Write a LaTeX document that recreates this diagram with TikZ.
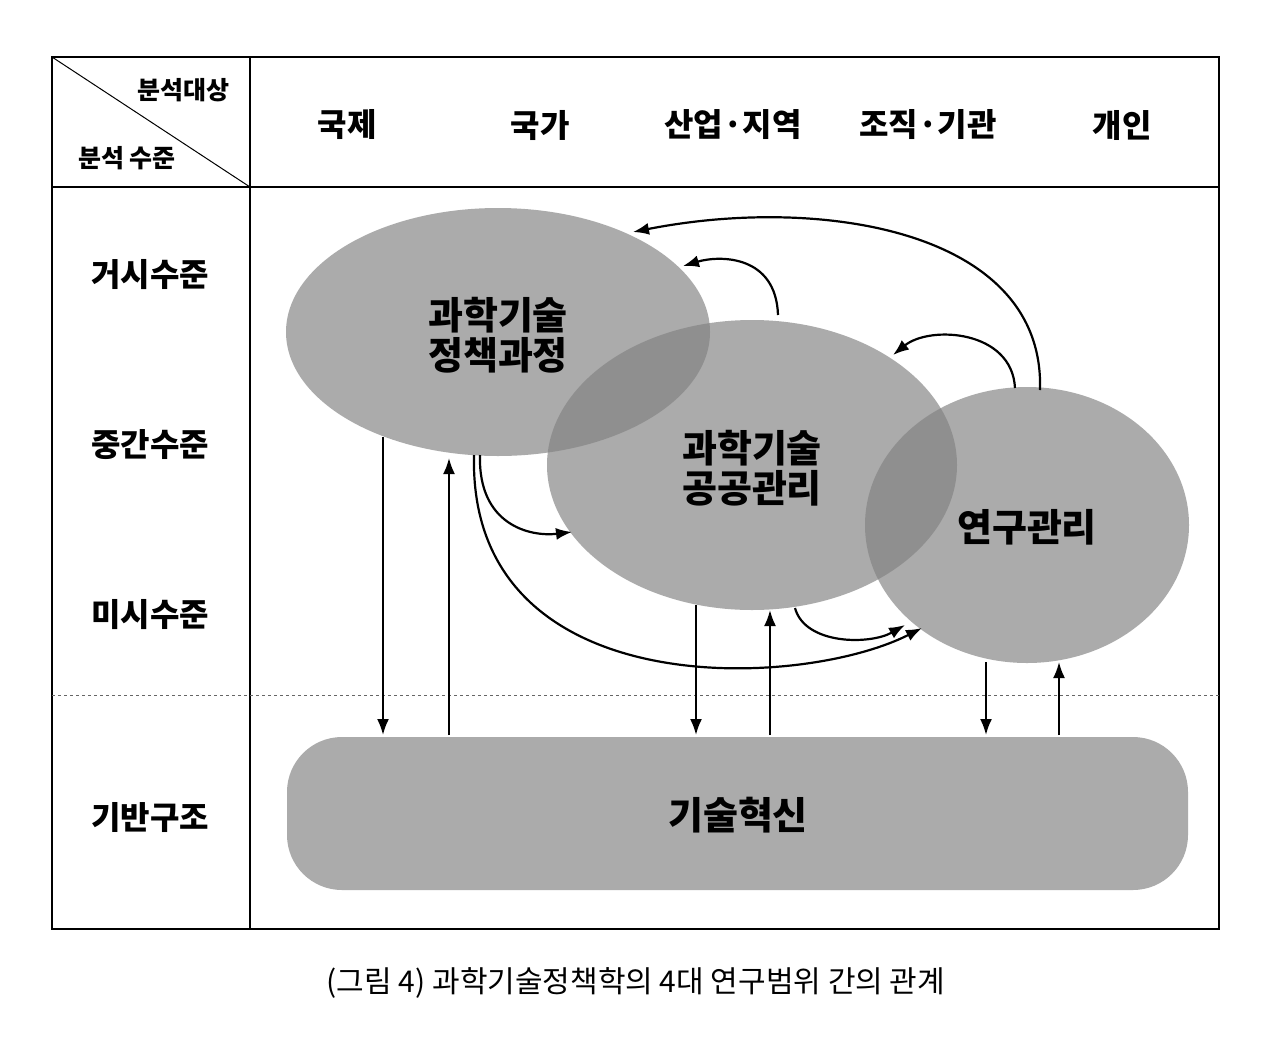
\documentclass[tikz,border=0pt]{standalone}
\usepackage{fontspec}
\setmainfont{Noto Sans CJK KR}
\newfontfamily\kb[BoldFont={Noto Sans CJK KR Bold}]{Noto Sans CJK KR}
\usetikzlibrary{arrows.meta}
\begin{document}
\begin{tikzpicture}[x=1pt,y=-1pt,
  blob/.style={fill=black!49,fill opacity=0.67,draw=none},
  conn/.style={line width=2.2pt,-{Latex[length=16pt,width=12pt]}},
  hd/.style={font=\fontsize{32}{38}\selectfont\bfseries},
  big/.style={font=\fontsize{38}{46}\selectfont\bfseries,align=center}]
\useasboundingbox (0,0) rectangle (1280,1037);
\fill[white] (0,0) rectangle (1280,1037);
% table
\draw[line width=1.5pt] (52,57) rectangle (1219,929);
\draw[line width=1.5pt] (250,57) -- (250,929);
\draw[line width=1.5pt] (52,187) -- (1219,187);
\draw[line width=1pt] (52,57) -- (250,187);
\draw[dashed,line width=1pt,black!60] (52,695) -- (1219,695);
\node[font=\fontsize{25}{30}\selectfont\bfseries] (ta) at (183,90) {분석대상};
\node[font=\fontsize{25}{30}\selectfont\bfseries] (tb) at (127,158) {분석 수준};
\node[hd] (c1) at (347,125) {국제};
\node[hd] (c2) at (540,125) {국가};
\node[hd] (c3) at (733,125) {산업·지역};
\node[hd] (c4) at (928,125) {조직·기관};
\node[hd] (c5) at (1122,125) {개인};
\node[hd] (r1) at (150,275) {거시수준};
\node[hd] (r2) at (150,445) {중간수준};
\node[hd] (r3) at (150,615) {미시수준};
\node[hd] (r4) at (150,818) {기반구조};
% shapes
\fill[black!33,rounded corners=55pt] (287,737) rectangle (1188,890);
\fill[blob] (498,332) ellipse [x radius=212, y radius=124];
\fill[blob] (752,465) ellipse [x radius=205, y radius=145];
\fill[blob] (1027,525) ellipse [x radius=162, y radius=138];
\node[big] (p) at (498,335) {과학기술\\[-6pt]정책과정};
\node[big] (g) at (752,468) {과학기술\\[-6pt]공공관리};
\node[big] (y) at (1027,527) {연구관리};
\node[big] (t) at (738,815) {기술혁신};
% coordinates
\coordinate (a1) at (383,437); \coordinate (b1) at (383,735);
\coordinate (a2) at (449,735); \coordinate (b2) at (449,458);
\coordinate (a3) at (696,605); \coordinate (b3) at (696,735);
\coordinate (a4) at (770,735); \coordinate (b4) at (770,610);
\coordinate (a5) at (986,662); \coordinate (b5) at (986,735);
\coordinate (a6) at (1059,735); \coordinate (b6) at (1059,662);
\foreach \i in {1,...,6} \draw[conn] (a\i) -- (b\i);
\coordinate (s1) at (778,315); \coordinate (e1) at (683,266);
\coordinate (s2) at (1040,390); \coordinate (e2) at (633,232);
\coordinate (s3) at (1015,388); \coordinate (e3) at (893,355);
\coordinate (s4) at (480,455); \coordinate (e4) at (572,532);
\coordinate (s5) at (474,455); \coordinate (e5) at (922,628);
\coordinate (s6) at (795,608); \coordinate (e6) at (905,625);
\draw[conn] (s1) .. controls (776,255) and (720,255) .. (e1);
\draw[conn] (s2) .. controls (1045,230) and (820,195) .. (e2);
\draw[conn] (s3) .. controls (1012,330) and (930,325) .. (e3);
\draw[conn] (s4) .. controls (478,525) and (530,537) .. (e4);
\draw[conn] (s5) .. controls (468,705) and (800,690) .. (e5);
\draw[conn] (s6) .. controls (805,645) and (870,645) .. (e6);
\node[font=\fontsize{30}{36}\selectfont] (cap) at (636,983) {(그림 4) 과학기술정책학의 4대 연구범위 간의 관계};
\end{tikzpicture}
\end{document}
